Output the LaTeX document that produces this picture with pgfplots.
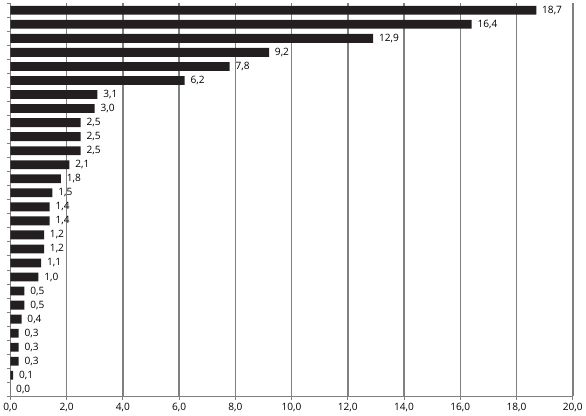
\documentclass[border=0pt]{standalone}
\usepackage{pgfplots}
\pgfplotsset{compat=1.18}
\usepackage{fontspec}
\setmainfont{Open Sans}
\definecolor{barc}{HTML}{231F20}
\definecolor{gridc}{HTML}{808080}
\begin{document}
\begin{tikzpicture}[x=1bp,y=1bp]
\begin{axis}[
  scale only axis,
  width=571bp, height=399bp,
  xbar, bar width=0.63,
  xmin=0, xmax=20,
  ymin=0.5, ymax=28.5,
  y dir=reverse,
  axis x line*=bottom, axis y line*=left,
  axis line style={gridc, line width=1.5pt},
  xtick={0,2,...,20},
  xmajorgrids, major grid style={gridc, line width=1.5pt},
  ytick={0.5,1.5,...,28.5}, yticklabels={},
  tick align=outside, major tick length=3.5bp,
  tick style={gridc, line width=1pt},
  /pgf/number format/assume math mode=true,
  xticklabel style={font=\fontsize{10.3}{12}\selectfont, text=black, /pgf/number format/.cd, fixed, fixed zerofill, precision=1, use comma},
  nodes near coords,
  nodes near coords style={font=\fontsize{10.3}{12}\selectfont, text=black, anchor=west, xshift=2.5bp, /pgf/number format/.cd, fixed, fixed zerofill, precision=1, use comma},
  clip=false,
]
\addplot[fill=barc, draw=none] coordinates {
(18.7,1) (16.4,2) (12.9,3) (9.2,4) (7.8,5) (6.2,6) (3.1,7) (3.0,8)
(2.5,9) (2.5,10) (2.5,11) (2.1,12) (1.8,13) (1.5,14) (1.4,15) (1.4,16)
(1.2,17) (1.2,18) (1.1,19) (1.0,20) (0.5,21) (0.5,22) (0.4,23) (0.3,24)
(0.3,25) (0.3,26) (0.1,27) (0.0,28)
};
\end{axis}
\end{tikzpicture}
\end{document}
